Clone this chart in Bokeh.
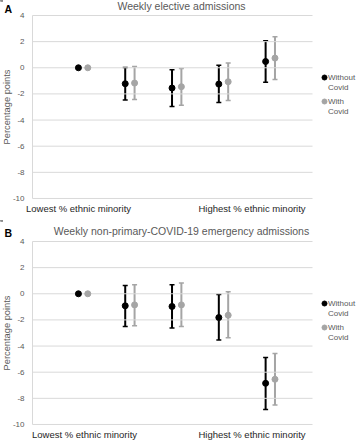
import math
from bokeh.plotting import figure
from bokeh.models import ColumnDataSource, Whisker, TeeHead, Range1d
from bokeh.core.properties import value
from bokeh.layouts import column
from bokeh.embed import file_html
from bokeh.resources import INLINE

nan = float("nan")
groups = [1, 2, 3, 4, 5]

a_without = [0.0, -1.22, -1.55, -1.25, 0.48]
a_without_lo = [nan, -2.47, -2.96, -2.65, -1.10]
a_without_hi = [nan, 0.02, -0.15, 0.20, 2.07]
a_with = [0.0, -1.17, -1.45, -1.07, 0.74]
a_with_lo = [nan, -2.42, -2.86, -2.50, -0.90]
a_with_hi = [nan, 0.10, -0.05, 0.36, 2.37]

b_without = [0.0, -0.92, -0.97, -1.82, -6.85]
b_without_lo = [nan, -2.51, -2.62, -3.54, -8.85]
b_without_hi = [nan, 0.64, 0.69, -0.05, -4.87]
b_with = [0.0, -0.85, -0.85, -1.64, -6.54]
b_with_lo = [nan, -2.44, -2.51, -3.36, -8.51]
b_with_hi = [nan, 0.69, 0.82, 0.15, -4.56]

yticks = [-10, -8, -6, -4, -2, 0, 2, 4]
ytick_labels = ["-10", "-8", "-6", "-4", "-2", "0", "2", "4"]
series_names = [["Without", "Covid"], ["With", "Covid"]]
x_labels = ["Lowest % ethnic minority", "Highest % ethnic minority"]
y_title = "Percentage points"

FONT = "Liberation Sans"
BLACK = "#000000"
GRAY = "#a5a5a5"
TXT = "#595959"
GRID = "#d9d9d9"
DODGE = 0.1

W, H = 357, 220
PX_X = 46.8      # pixels per category unit
PX_Y = 13.07     # pixels per percentage point
X0 = -0.765      # category value at the left edge of the canvas
X_LEFT, X_RIGHT = -0.081, 5.902   # plot area edges (category units)


def make_panel(letter, title, series, frame_top_px, low_px, letter_py, title_py, cat_py, leg_py):
    y_top = max(yticks) + frame_top_px / PX_Y
    p = figure(width=W, height=H, output_backend="svg", toolbar_location=None,
               x_axis_type=None, y_axis_type=None,
               x_range=Range1d(X0, X0 + W / PX_X),
               y_range=Range1d(y_top - H / PX_Y, y_top),
               min_border=0)
    p.outline_line_color = None
    p.background_fill_color = "white"
    p.border_fill_color = "white"

    fx = lambda px: X0 + px / PX_X
    fy = lambda py: y_top - py / PX_Y

    # gridlines
    p.segment(x0=[X_LEFT] * len(yticks), x1=[X_RIGHT] * len(yticks),
              y0=yticks, y1=yticks, line_color=GRID, line_width=1)
    # left axis line
    p.segment(x0=[X_LEFT], x1=[X_LEFT], y0=[min(yticks)], y1=[max(yticks)],
              line_color=GRID, line_width=1)
    # y tick labels
    p.text(x=[fx(24)] * len(yticks), y=yticks, text=ytick_labels,
           text_font=value(FONT), text_font_size="8px", text_color=TXT,
           text_align="right", text_baseline="middle")
    # y axis title
    p.text(x=[fx(6)], y=[(min(yticks) + max(yticks)) / 2], text=[y_title], angle=math.pi / 2,
           text_font=value(FONT), text_font_size="9.3px", text_color=TXT,
           text_align="center", text_baseline="middle")
    # category labels
    p.text(x=[fx(low_px), fx(251.5)], y=[fy(cat_py)] * 2, text=x_labels,
           text_font=value(FONT), text_font_size="9.5px", text_color="#262626",
           text_align="center", text_baseline="middle")
    # title and panel letter
    p.text(x=[fx(181)], y=[fy(title_py)], text=[title],
           text_font=value(FONT), text_font_size="10.5px", text_color=TXT,
           text_align="center", text_baseline="middle")
    p.text(x=[fx(4)], y=[fy(letter_py)], text=[letter],
           text_font=value(FONT), text_font_size="10.5px", text_font_style="bold",
           text_color="#000000", text_align="left", text_baseline="middle")

    for k, (vals, lo, hi, color, names, off) in enumerate(series):
        xs = [g + off for g in groups]
        src = ColumnDataSource(dict(x=xs, y=vals, lo=lo, hi=hi))
        w = Whisker(base="x", lower="lo", upper="hi", source=src,
                    line_color=color, line_width=2,
                    upper_head=TeeHead(size=5, line_color=color, line_width=1.5),
                    lower_head=TeeHead(size=5, line_color=color, line_width=1.5))
        p.add_layout(w)
        p.scatter("x", "y", source=src, size=6, fill_color=color, line_color=color)
        # legend entry
        ly = leg_py + k * 24
        p.scatter(x=[fx(324)], y=[fy(ly)], size=5, fill_color=color, line_color=color)
        p.text(x=[fx(327.5)] * 2, y=[fy(ly), fy(ly + 10)], text=names,
               text_font=value(FONT), text_font_size="8px", text_color=TXT,
               text_align="left", text_baseline="middle")
    return p


pA = make_panel("A", "Weekly elective admissions",
                [(a_without, a_without_lo, a_without_hi, BLACK, series_names[0], -DODGE),
                 (a_with, a_with_lo, a_with_hi, GRAY, series_names[1], DODGE)],
                frame_top_px=15, low_px=78, letter_py=8, title_py=5, cat_py=207.5, leg_py=77)
pB = make_panel("B", "Weekly non-primary-COVID-19 emergency admissions",
                [(b_without, b_without_lo, b_without_hi, BLACK, series_names[0], -DODGE),
                 (b_with, b_with_lo, b_with_hi, GRAY, series_names[1], DODGE)],
                frame_top_px=21, low_px=84, letter_py=12, title_py=10, cat_py=213.5, leg_py=83)

layout = column(pA, pB, spacing=0)
open("out.html", "w").write(file_html(layout, INLINE))
